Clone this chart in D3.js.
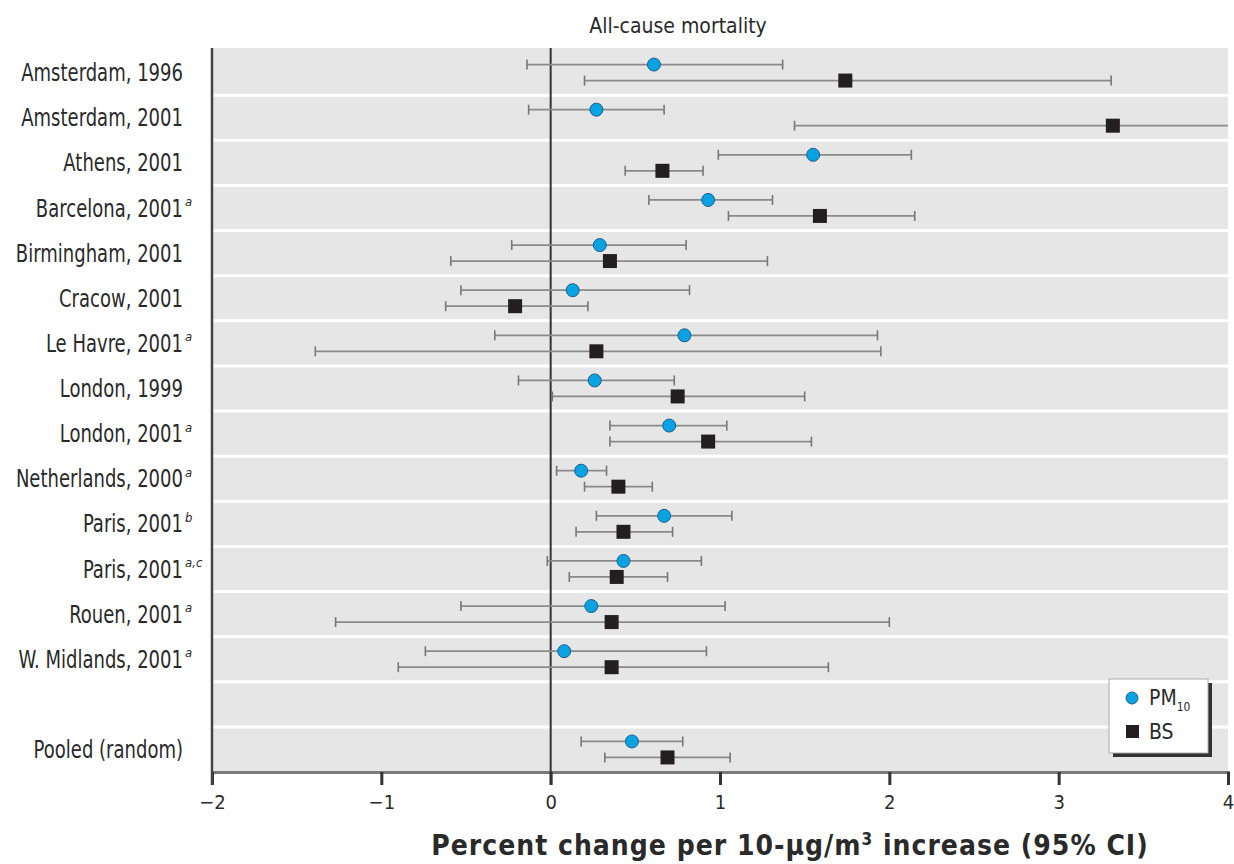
<!DOCTYPE html>
<html>
<head>
<meta charset="utf-8">
<script src="https://cdn.jsdelivr.net/npm/d3@7"></script>
<style>
  body { margin: 0; background: #fff; }
  svg text { font-family: "Liberation Sans Narrow", "DejaVu Sans Condensed", sans-serif; fill: #2a2a2a; }
</style>
</head>
<body>
<div id="chart"></div>
<script>
const cities = ["Amsterdam, 1996", "Amsterdam, 2001", "Athens, 2001", "Barcelona, 2001", "Birmingham, 2001",
    "Cracow, 2001", "Le Havre, 2001", "London, 1999", "London, 2001", "Netherlands, 2000", "Paris, 2001",
    "Paris, 2001", "Rouen, 2001", "W. Midlands, 2001", "", "Pooled (random)"];
const notes = ["", "", "", "a", "", "", "a", "", "a", "a", "b", "a,c", "a", "a", "", ""];

// PM10 estimate and 95% CI
const pmEst = [0.61, 0.27, 1.55, 0.93, 0.29, 0.13, 0.79, 0.26, 0.70, 0.18, 0.67, 0.43, 0.24, 0.08, null, 0.48];
const pmLo  = [-0.14, -0.13, 0.99, 0.58, -0.23, -0.53, -0.33, -0.19, 0.35, 0.035, 0.27, -0.02, -0.53, -0.74, null, 0.18];
const pmHi  = [1.37, 0.67, 2.13, 1.31, 0.80, 0.82, 1.93, 0.73, 1.04, 0.33, 1.07, 0.89, 1.03, 0.92, null, 0.78];
// black smoke estimate and 95% CI
const bsEst = [1.74, 3.32, 0.66, 1.59, 0.35, -0.21, 0.27, 0.75, 0.93, 0.40, 0.43, 0.39, 0.36, 0.36, null, 0.69];
const bsLo  = [0.20, 1.44, 0.44, 1.05, -0.59, -0.62, -1.39, 0.01, 0.35, 0.20, 0.15, 0.11, -1.27, -0.90, null, 0.32];
const bsHi  = [3.31, 5.20, 0.90, 2.15, 1.28, 0.22, 1.95, 1.50, 1.54, 0.60, 0.72, 0.69, 2.00, 1.64, null, 1.06];

const xTicks = [-2, -1, 0, 1, 2, 3, 4];

const width = 1234, height = 864;
const margin = {top: 50, right: 6, bottom: 92, left: 212};

const svg = d3.select("#chart").append("svg")
    .attr("width", width)
    .attr("height", height);

const x = d3.scaleLinear().domain([-2, 4]).range([margin.left, width - margin.right]);
const y = d3.scaleBand().domain(d3.range(cities.length)).range([margin.top, height - margin.bottom]);
const off = 8;

svg.append("clipPath").attr("id", "plot-clip")
    .append("rect")
    .attr("x", x(-2)).attr("y", margin.top)
    .attr("width", x(4) - x(-2)).attr("height", y.range()[1] - margin.top);

// background and row separators
svg.append("rect")
    .attr("x", x(-2)).attr("y", margin.top - 2)
    .attr("width", x(4) - x(-2)).attr("height", y.range()[1] - margin.top + 2)
    .attr("fill", "#e6e6e6");

svg.append("g").selectAll("line")
    .data(d3.range(1, cities.length))
    .enter().append("line")
    .attr("x1", x(-2)).attr("x2", x(4))
    .attr("y1", d => y(d)).attr("y2", d => y(d))
    .attr("stroke", "#fff").attr("stroke-width", 3);

// title
svg.append("text")
    .attr("x", 678).attr("y", 33)
    .attr("text-anchor", "middle")
    .attr("font-size", 21)
    .text("All-cause mortality");

// row labels, squeezed to mimic the condensed face
const labels = svg.append("g").attr("class", "labels");
labels.append("g")
    .attr("transform", "translate(183,0) scale(0.835,1)")
    .selectAll("text")
    .data(cities)
    .enter().append("text")
    .attr("x", 0)
    .attr("y", (d, i) => y(i) + y.bandwidth() / 2)
    .attr("dy", "0.36em")
    .attr("text-anchor", "end")
    .attr("font-size", 24)
    .text(d => d);
labels.selectAll("text.note")
    .data(notes)
    .enter().append("text")
    .attr("class", "note")
    .attr("x", 185)
    .attr("y", (d, i) => y(i) + y.bandwidth() / 2 - 2)
    .attr("font-size", 13)
    .attr("font-style", "italic")
    .text(d => d);

// x axis
const xAxis = svg.append("g")
    .attr("transform", "translate(0," + y.range()[1] + ")")
    .call(d3.axisBottom(x).tickValues(xTicks).tickSize(13).tickPadding(10)
        .tickFormat(d => d < 0 ? "\u2212" + Math.abs(d) : d));
xAxis.select(".domain").attr("stroke", "#7a7a7a").attr("stroke-width", 3);
xAxis.selectAll(".tick line").attr("stroke", "#333").attr("stroke-width", 3);
xAxis.selectAll(".tick text").attr("font-size", 20).attr("fill", "#2a2a2a")
    .style("font-family", "'Liberation Sans Narrow', 'DejaVu Sans Condensed', sans-serif");

// y axis line and zero line
svg.append("line")
    .attr("x1", x(-2)).attr("x2", x(-2))
    .attr("y1", margin.top - 2).attr("y2", y.range()[1] + 13)
    .attr("stroke", "#444").attr("stroke-width", 2.5);
svg.append("line")
    .attr("x1", x(0)).attr("x2", x(0))
    .attr("y1", margin.top - 2).attr("y2", y.range()[1] + 13)
    .attr("stroke", "#333").attr("stroke-width", 2);

// error bars
function drawSeries(est, lo, hi, dy, cls) {
    const rows = d3.range(cities.length).filter(i => est[i] !== null);
    const g = svg.append("g").attr("class", cls).attr("clip-path", "url(#plot-clip)");
    g.selectAll("line.ci")
        .data(rows)
        .enter().append("line")
        .attr("class", "ci")
        .attr("x1", i => x(lo[i])).attr("x2", i => x(hi[i]))
        .attr("y1", i => y(i) + y.bandwidth() / 2 + dy)
        .attr("y2", i => y(i) + y.bandwidth() / 2 + dy)
        .attr("stroke", "#8a8a8a").attr("stroke-width", 1.8);
    const caps = rows.flatMap(i => [[i, lo[i]], [i, hi[i]]]).filter(c => c[1] <= 4);
    g.selectAll("line.cap")
        .data(caps)
        .enter().append("line")
        .attr("class", "cap")
        .attr("x1", c => x(c[1])).attr("x2", c => x(c[1]))
        .attr("y1", c => y(c[0]) + y.bandwidth() / 2 + dy - 5)
        .attr("y2", c => y(c[0]) + y.bandwidth() / 2 + dy + 5)
        .attr("stroke", "#777").attr("stroke-width", 1.6);
    return {g, rows};
}

const pm = drawSeries(pmEst, pmLo, pmHi, -off, "pm10");
const bs = drawSeries(bsEst, bsLo, bsHi, off, "bs");

pm.g.selectAll("circle")
    .data(pm.rows)
    .enter().append("circle")
    .attr("cx", i => x(pmEst[i]))
    .attr("cy", i => y(i) + y.bandwidth() / 2 - off)
    .attr("r", 6.5)
    .attr("fill", "#0aa3e2")
    .attr("stroke", "#1d5f8c").attr("stroke-width", 1);

bs.g.selectAll("rect")
    .data(bs.rows)
    .enter().append("rect")
    .attr("x", i => x(bsEst[i]) - 7)
    .attr("y", i => y(i) + y.bandwidth() / 2 + off - 7)
    .attr("width", 14).attr("height", 14)
    .attr("fill", "#231f20");

// legend
const legend = svg.append("g").attr("transform", "translate(1109,679)");
legend.append("rect").attr("x", 4).attr("y", 4).attr("width", 99).attr("height", 74).attr("fill", "#333");
legend.append("rect").attr("width", 99).attr("height", 74).attr("fill", "#fff")
    .attr("stroke", "#aaa").attr("stroke-width", 1);
legend.append("circle").attr("cx", 23).attr("cy", 19).attr("r", 6)
    .attr("fill", "#0aa3e2").attr("stroke", "#1d5f8c").attr("stroke-width", 1);
const pmText = legend.append("text").attr("x", 40).attr("y", 26).attr("font-size", 21);
pmText.append("tspan").text("PM");
pmText.append("tspan").attr("font-size", 12).attr("dy", 6).attr("fill", "#2a2a2a").text("10");
legend.append("rect").attr("x", 17).attr("y", 46).attr("width", 13).attr("height", 13).attr("fill", "#231f20");
legend.append("text").attr("x", 40).attr("y", 60).attr("font-size", 21).text("BS");

// x axis title
const xt = svg.append("text")
    .attr("x", 790).attr("y", 855)
    .attr("text-anchor", "middle")
    .attr("font-size", 28)
    .attr("letter-spacing", 1)
    .attr("font-weight", "bold");
xt.append("tspan").text("Percent change per 10-\u00b5g/m");
xt.append("tspan").attr("font-size", 17).attr("dy", -10).text("3");
xt.append("tspan").attr("dy", 10).text(" increase (95% CI)");
</script>
</body>
</html>
